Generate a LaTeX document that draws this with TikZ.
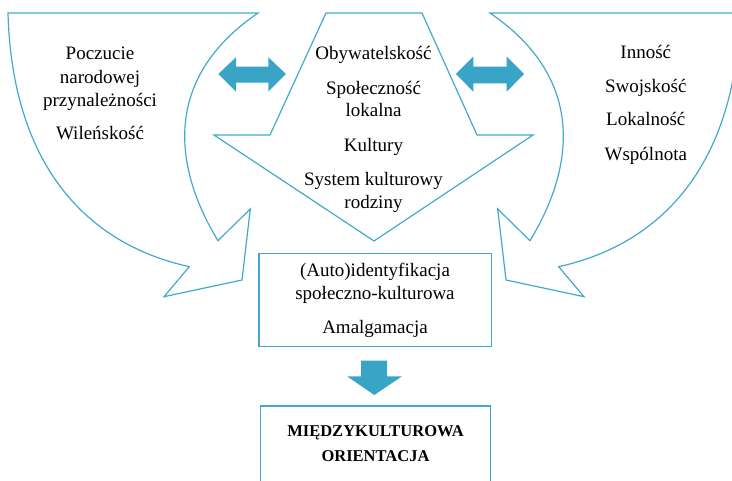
\documentclass[tikz,border=0pt]{standalone}
\usepackage{fontspec}
\setmainfont{Liberation Serif}
\newfontfamily\labelface{Liberation Serif}
\definecolor{lineblue}{RGB}{66,169,204}
\definecolor{fillblue}{RGB}{58,164,198}
\tikzset{
  outline/.style={draw=lineblue, line width=1.2pt, line join=miter},
  solidarrow/.style={fill=fillblue, draw=none},
  txt/.style={anchor=base, inner sep=0pt, font=\labelface\fontsize{19}{22}\selectfont},
  boldtxt/.style={anchor=base, inner sep=0pt, font=\labelface\fontsize{16.5}{20}\selectfont\bfseries},
  frame/.style={draw=lineblue, line width=1.4pt}
}
\begin{document}
\begin{tikzpicture}[x=1pt,y=-1pt]
\useasboundingbox (0,0) rectangle (732,481);
\clip (0,0) rectangle (732,481);

% left curved arrow
\draw[outline] (8,13) -- (258,13)
  .. controls (160,80) and (175,170) .. (218,240.7)
  -- (250.3,209) -- (242,280) -- (164,296.7) -- (189.3,266.7)
  .. controls (82,243) and (12,160) .. (8,13) -- cycle;

% right curved arrow (mirror image)
\draw[outline] (740,13) -- (490,13)
  .. controls (588,80) and (573,170) .. (530,240.7)
  -- (497.7,209) -- (506,280) -- (584,296.7) -- (558.7,266.7)
  .. controls (666,243) and (736,160) .. (740,13) -- cycle;

% central down-pointing arrow
\draw[outline] (326,13) -- (422,13) -- (477,135) -- (533,135)
  -- (374,241) -- (214,135) -- (270,135) -- cycle;

% double arrows
\fill[solidarrow] (218.3,74) -- (236,57.3) -- (236,66.7) -- (268.3,66.7)
  -- (268.3,57.3) -- (286,74) -- (268.3,91.7) -- (268.3,82.7)
  -- (236,82.7) -- (236,91.7) -- cycle;
\fill[solidarrow] (456,74) -- (473.3,56.5) -- (473.3,66.7) -- (506.7,66.7)
  -- (506.7,56.5) -- (524,74) -- (506.7,91.7) -- (506.7,83.3)
  -- (473.3,83.3) -- (473.3,91.7) -- cycle;

% boxes
\node[frame, minimum width=232.7pt, minimum height=93.4pt, inner sep=0pt]
  (box1) at (375.3,300) {};
\node[frame, minimum width=230pt, minimum height=120pt, inner sep=0pt, anchor=north]
  (box2) at (375.7,405.5) {};

% down arrow between the boxes
\fill[solidarrow] (361,360.7) -- (387,360.7) -- (387,376.5) -- (401.7,376.5)
  -- (374.3,395) -- (347.3,376.5) -- (361,376.5) -- cycle;

% left column
\node[txt] (l1) at (100,60) {Poczucie};
\node[txt] (l2) at (100,83.3) {narodowej};
\node[txt] (l3) at (100,106.3) {przynależności};
\node[txt] (l4) at (100,139.3) {Wileńskość};

% centre column
\node[txt] (c1) at (373.5,60) {Obywatelskość};
\node[txt] (c2) at (373.5,95) {Społeczność};
\node[txt] (c3) at (373.5,116.7) {lokalna};
\node[txt] (c4) at (373.5,151.7) {Kultury};
\node[txt] (c5) at (373.5,186) {System kulturowy};
\node[txt] (c6) at (373.5,208.3) {rodziny};

% right column
\node[txt] (r1) at (645.8,58.3) {Inność};
\node[txt] (r2) at (645.8,92.3) {Swojskość};
\node[txt] (r3) at (645.8,126) {Lokalność};
\node[txt] (r4) at (645.8,160.7) {Wspólnota};

% box texts
\node[txt] (b1) at (375,276.7) {(Auto)identyfikacja};
\node[txt] (b2) at (375,299.3) {społeczno-kulturowa};
\node[txt] (b3) at (375,333.3) {Amalgamacja};
\node[boldtxt] (o1) at (375.5,436.7) {MIĘDZYKULTUROWA};
\node[boldtxt] (o2) at (375.5,461) {ORIENTACJA};
\end{tikzpicture}
\end{document}
